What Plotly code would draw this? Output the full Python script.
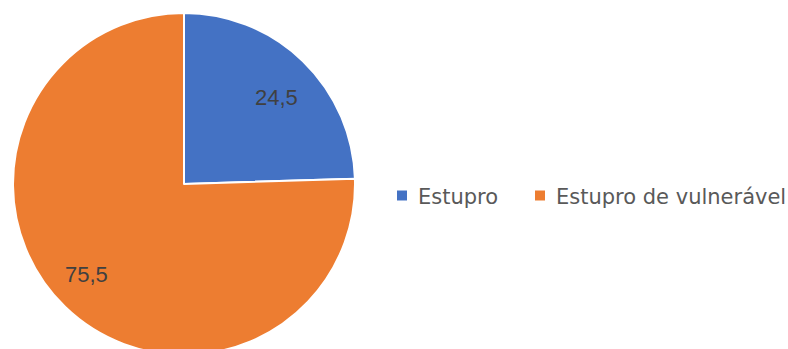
import math
import plotly.graph_objects as go

categorias = ["Estupro", "Estupro de vulnerável"]
percentuais = [24.5, 75.5]
cores = ["#4472C4", "#ED7D31"]

W, H = 788, 355
top = 13
plot_h = H - top
# pie geometry in pixels (centre and radius)
cx, cy, R = 184, 184, 171
# radial placement of the value labels (fraction of radius) and angular nudge
label_r = [0.74, 0.78]
label_shift = 3.0
# legend layout in pixels: marker centre x per entry, row centre y, marker size
legend_x = [402, 540]
legend_y = 195.5
box = 10


def px_x(x):
    return x / W


def px_y(y):
    return 1 - (y - top) / plot_h


fig = go.Figure(
    go.Pie(
        labels=categorias,
        values=percentuais,
        sort=False,
        direction="clockwise",
        rotation=0,
        marker=dict(colors=cores, line=dict(color="white", width=2)),
        textinfo="none",
        hoverinfo="label+value",
        showlegend=False,
        domain=dict(x=[(cx - R) / W, (cx + R) / W], y=[0, 1]),
    )
)

# value labels placed along each slice's mid-angle
total = sum(percentuais)
acc = 0.0
for v, fr in zip(percentuais, label_r):
    mid = (acc + v / 2) / total * 360 + label_shift
    acc += v
    a = math.radians(mid)
    fig.add_annotation(
        x=px_x(cx + fr * R * math.sin(a)),
        y=px_y(cy - fr * R * math.cos(a)),
        xref="paper",
        yref="paper",
        text=f"{v:.1f}".replace(".", ","),
        showarrow=False,
        font=dict(family="Liberation Sans, Arial, sans-serif", size=22, color="#404040"),
        xanchor="center",
        yanchor="middle",
    )

# legend: coloured squares followed by category names
for nome, cor, lx in zip(categorias, cores, legend_x):
    fig.add_shape(
        type="rect",
        xref="paper",
        yref="paper",
        x0=px_x(lx - box / 2),
        x1=px_x(lx + box / 2),
        y0=px_y(legend_y + box / 2),
        y1=px_y(legend_y - box / 2),
        fillcolor=cor,
        line=dict(width=0),
    )
    fig.add_annotation(
        x=px_x(lx + 14),
        y=px_y(legend_y + 1),
        xref="paper",
        yref="paper",
        text=nome,
        showarrow=False,
        xanchor="left",
        yanchor="middle",
        font=dict(family="DejaVu Sans, sans-serif", size=21, color="#595959"),
    )

fig.update_layout(
    width=W,
    height=H,
    margin=dict(l=0, r=0, t=top, b=0),
    paper_bgcolor="white",
    plot_bgcolor="white",
    showlegend=False,
)

fig.write_html("out.html")
